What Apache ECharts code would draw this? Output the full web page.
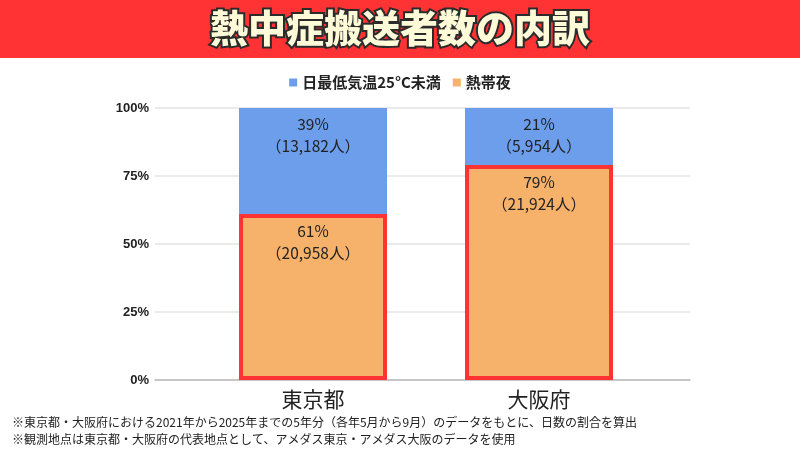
<!DOCTYPE html>
<html>
<head>
<meta charset="utf-8">
<script src="https://cdn.jsdelivr.net/npm/echarts@6/dist/echarts.min.js"></script>
<style>
html,body{margin:0;padding:0;background:#fff;}
#container{width:800px;height:450px;}
</style>
</head>
<body>
<div id="container"></div>
<script>
// 地域
var cities = ['東京都', '大阪府'];
// 割合 (%)
var nightPct = [61, 79];
var lowPct = [39, 21];
// 人数
var nightCount = [20958, 21924];
var lowCount = [13182, 5954];

var font = '"Noto Sans CJK JP", "Noto Sans", sans-serif';
var blue = '#6D9EEB', orange = '#F6B26B', red = '#FF3333';

function fmt(n) {
    return n.toString().replace(/\B(?=(\d{3})+(?!\d))/g, ',');
}
function labelFor(counts) {
    return function (p) {
        return p.value + '%\n（' + fmt(counts[p.dataIndex]) + '人）';
    };
}

var myChart = echarts.init(document.getElementById('container'));
var option = {
    backgroundColor: '#fff',
    animation: false,
    title: {
        text: '熱中症搬送者数の内訳',
        left: 'center',
        top: 4,
        textStyle: {
            fontFamily: font,
            fontSize: 38,
            fontWeight: 900,
            color: '#FFFBD9',
            textBorderColor: '#2b2b2b',
            textBorderWidth: 4
        }
    },
    legend: {
        top: 70,
        left: 'center',
        itemWidth: 8,
        itemHeight: 8,
        itemGap: 12,
        icon: 'rect',
        textStyle: { fontFamily: font, fontSize: 15, fontWeight: 'bold', color: '#222' },
        data: [
            { name: '日最低気温25°C未満', itemStyle: { color: blue, borderWidth: 0 } },
            { name: '熱帯夜', itemStyle: { color: orange, borderWidth: 0 } }
        ]
    },
    graphic: [
        { type: 'rect', z: -1, shape: { x: 0, y: 0, width: 800, height: 58 }, style: { fill: red } },
        { type: 'text', left: 12, top: 416, style: { text: '※東京都・大阪府における2021年から2025年までの5年分（各年5月から9月）のデータをもとに、日数の割合を算出', fontFamily: font, fontSize: 12, fill: '#222' } },
        { type: 'text', left: 12, top: 433, style: { text: '※観測地点は東京都・大阪府の代表地点として、アメダス東京・アメダス大阪のデータを使用', fontFamily: font, fontSize: 12, fill: '#222' } }
    ],
    grid: [
        { left: 155, right: 110, top: 108, bottom: 70 },
        { left: 200, right: 148, top: 108, bottom: 70 }
    ],
    xAxis: [
        { type: 'category', gridIndex: 0, data: [''], axisTick: { show: false }, axisLabel: { show: false },
          axisLine: { lineStyle: { color: '#bbb', width: 1.5 } } },
        { type: 'category', gridIndex: 1, data: cities, axisTick: { show: false },
          axisLine: { show: false },
          axisLabel: { fontFamily: font, fontSize: 21, color: '#222', margin: 9 } }
    ],
    yAxis: [
        { type: 'value', gridIndex: 0, min: 0, max: 100, interval: 25,
          axisLabel: { formatter: '{value}%', fontFamily: 'Liberation Sans, Arial, sans-serif', fontWeight: 'bold', fontSize: 13, color: '#222', margin: 6 },
          splitLine: { lineStyle: { color: '#e3e3e3', width: 1.5 } } },
        { type: 'value', gridIndex: 1, min: 0, max: 100, interval: 25, show: false }
    ],
    series: [
        {
            name: '熱帯夜', type: 'bar', stack: 'a', xAxisIndex: 1, yAxisIndex: 1,
            barWidth: 148, data: nightPct,
            itemStyle: { color: orange, borderColor: red, borderWidth: 4 },
            label: { show: true, position: 'insideTop', distance: 6, formatter: labelFor(nightCount),
                     fontFamily: font, fontSize: 15.5, lineHeight: 22, color: '#222' },
            z: 3
        },
        {
            name: '日最低気温25°C未満', type: 'bar', stack: 'a', xAxisIndex: 1, yAxisIndex: 1,
            barWidth: 148, data: lowPct,
            itemStyle: { color: blue },
            label: { show: true, position: 'insideTop', distance: 5, formatter: labelFor(lowCount),
                     fontFamily: font, fontSize: 15.5, lineHeight: 22, color: '#222' },
            z: 2
        }
    ]
};
myChart.setOption(option);
</script>
</body>
</html>
